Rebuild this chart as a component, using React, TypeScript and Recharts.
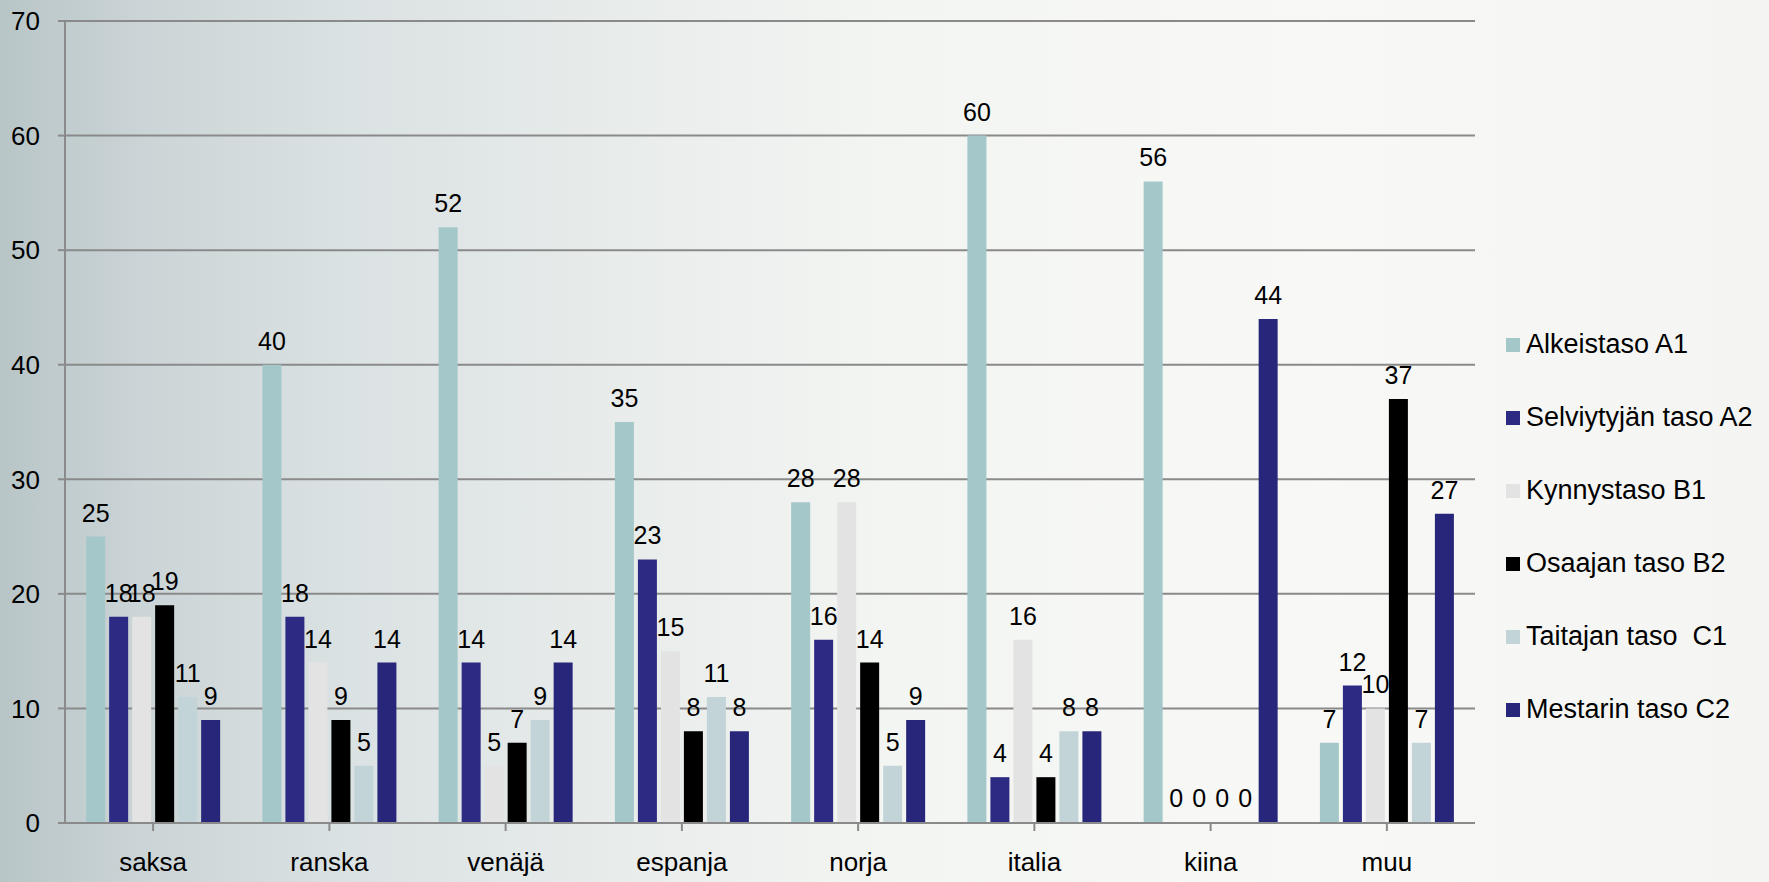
import React from "react";
import { BarChart, Bar, XAxis, YAxis, CartesianGrid, LabelList } from "recharts";

const categories = ["saksa", "ranska", "venäjä", "espanja", "norja", "italia", "kiina", "muu"];
const alkeistasoA1 = [25, 40, 52, 35, 28, 60, 56, 7];
const selviytyjanA2 = [18, 18, 14, 23, 16, 4, 0, 12];
const kynnystasoB1 = [18, 14, 5, 15, 28, 16, 0, 10];
const osaajanB2 = [19, 9, 7, 8, 14, 4, 0, 37];
const taitajanC1 = [11, 5, 9, 11, 5, 8, 0, 7];
const mestarinC2 = [9, 14, 14, 8, 9, 8, 44, 27];
const yTicks = [0, 10, 20, 30, 40, 50, 60, 70];

const seriesDefs = [
  { key: "a1", name: "Alkeistaso A1", values: alkeistasoA1, color: "#A4C7C9" },
  { key: "a2", name: "Selviytyjän taso A2", values: selviytyjanA2, color: "#2C2A82" },
  { key: "b1", name: "Kynnystaso B1", values: kynnystasoB1, color: "#E3E3E3" },
  { key: "b2", name: "Osaajan taso B2", values: osaajanB2, color: "#000000" },
  { key: "c1", name: "Taitajan taso  C1", values: taitajanC1, color: "#C2D4D7" },
  { key: "c2", name: "Mestarin taso C2", values: mestarinC2, color: "#28267A" },
];

const data = categories.map((c, i) => {
  const row: Record<string, string | number> = { name: c };
  seriesDefs.forEach((s) => {
    row[s.key] = s.values[i];
  });
  return row;
});

const FONT = "'Liberation Sans', Arial, sans-serif";

const LegendBox = () => (
  <div
    style={{
      position: "absolute",
      left: 1506,
      top: 308,
      fontFamily: FONT,
      fontSize: 27,
      color: "#000",
    }}
  >
    {seriesDefs.map((s) => (
      <div
        key={s.key}
        style={{ display: "flex", alignItems: "center", height: 73, whiteSpace: "pre" }}
      >
        <span
          style={{ display: "inline-block", width: 14, height: 14, background: s.color, marginRight: 6 }}
        />
        <span>{s.name}</span>
      </div>
    ))}
  </div>
);

export default function App() {
  return (
    <div
      style={{
        position: "absolute",
        left: 0,
        top: 0,
        width: 1769,
        height: 882,
        background:
          "linear-gradient(to right, #b8c5c7 0%, #cbd4d6 8%, #dbe2e3 20%, #e8eceb 35%, #f3f5f2 50%, #f8f9f6 75%, #f4f5f2 100%)",
        overflow: "hidden",
      }}
    >
      <BarChart
        width={1769}
        height={882}
        data={data}
        margin={{ top: 21, right: 294, left: 0, bottom: 0 }}
        barCategoryGap="12%"
        barGap={4}
      >
        <CartesianGrid horizontal={true} vertical={false} stroke="#8a8a8a" strokeWidth={2} />
        <YAxis
          width={65}
          domain={[0, 70]}
          ticks={yTicks}
          tickSize={7}
          tickMargin={18}
          axisLine={{ stroke: "#8a8a8a", strokeWidth: 2 }}
          tickLine={{ stroke: "#8a8a8a", strokeWidth: 2 }}
          tick={{ fill: "#000", fontSize: 26, fontFamily: FONT }}
          interval={0}
        />
        {seriesDefs.map((s) => (
          <Bar
            key={s.key}
            dataKey={s.key}
            name={s.name}
            fill={s.color}
            minPointSize={1}
            isAnimationActive={false}
          >
            <LabelList
              dataKey={s.key}
              position="top"
              offset={15}
              fill="#000"
              fontSize={25}
              fontFamily={FONT}
            />
          </Bar>
        ))}
        <XAxis
          dataKey="name"
          height={59}
          tickSize={8}
          tickMargin={22}
          axisLine={{ stroke: "#8a8a8a", strokeWidth: 2 }}
          tickLine={{ stroke: "#8a8a8a", strokeWidth: 2 }}
          tick={{ fill: "#000", fontSize: 26, fontFamily: FONT }}
          interval={0}
        />
      </BarChart>
      <LegendBox />
    </div>
  );
}
